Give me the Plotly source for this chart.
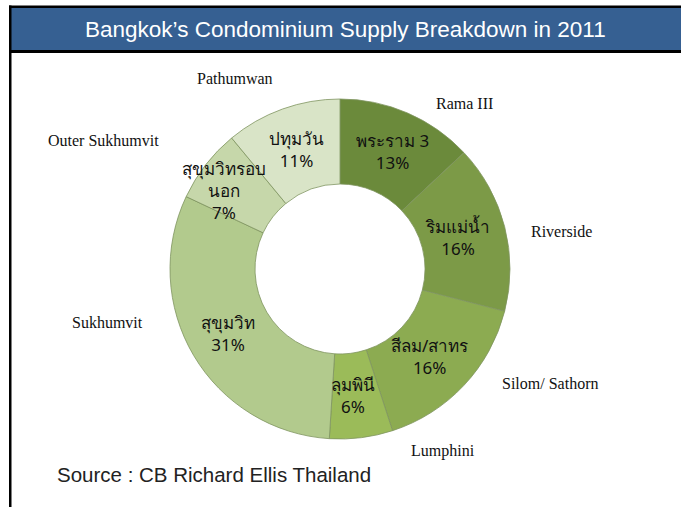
import math
import plotly.graph_objects as go

# Data
regions_en = ["Rama III", "Riverside", "Silom/ Sathorn", "Lumphini", "Sukhumvit", "Outer Sukhumvit", "Pathumwan"]
regions_th = ["พระราม 3", "ริมแม่น้ำ", "สีลม/สาทร", "ลุมพินี", "สุขุมวิท", "สุขุมวิทรอบ<br>นอก", "ปทุมวัน"]
shares = [13, 16, 16, 6, 31, 7, 11]
colors = ["#6b8a3b", "#7c9a47", "#8cab51", "#9bbb59", "#b2ca8d", "#c6d7aa", "#d9e4c7"]

# outer label positions (pixels in the 681x507 canvas)
outer_pos = {
    "Pathumwan": (235, 78),
    "Rama III": (464, 104),
    "Outer Sukhumvit": (103, 140),
    "Riverside": (561, 231),
    "Sukhumvit": (107, 322),
    "Silom/ Sathorn": (550, 383),
    "Lumphini": (443, 451),
}
# small horizontal nudge of inside labels (pixels)
inside_nudge = [2, -6, -3, -3, -2, -15, 0]

W, H = 681, 507
CX, CY, R_OUT, HOLE = 340, 269, 170, 0.5

fig = go.Figure()
fig.add_trace(go.Pie(
    labels=regions_en,
    values=shares,
    hole=HOLE,
    sort=False,
    direction="clockwise",
    rotation=0,
    marker=dict(colors=colors, line=dict(color="#7f9460", width=0.8)),
    textinfo="none",
    hoverinfo="label+percent",
    showlegend=False,
    domain=dict(x=[(CX - R_OUT) / W, (CX + R_OUT) / W], y=[(H - CY - R_OUT) / H, (H - CY + R_OUT) / H]),
))

annotations = []
total = sum(shares)
cum = 0
r_mid = R_OUT * (1 + HOLE) / 2
for th, v, dx in zip(regions_th, shares, inside_nudge):
    mid = (cum + v / 2) / total * 2 * math.pi
    cum += v
    px = CX + r_mid * math.sin(mid) + dx
    py = CY - r_mid * math.cos(mid)
    annotations.append(dict(
        x=px / W, y=1 - py / H, xref="paper", yref="paper",
        text=f"{th}<br>{round(v / total * 100)}%", showarrow=False,
        xanchor="center", yanchor="middle",
        font=dict(family="Tahoma, Noto Sans, DejaVu Sans, sans-serif", size=17, color="#111111"),
    ))

for name in regions_en:
    px, py = outer_pos[name]
    annotations.append(dict(
        x=px / W, y=1 - py / H, xref="paper", yref="paper",
        text=name, showarrow=False, xanchor="center", yanchor="middle",
        font=dict(family="Liberation Serif, Times New Roman, serif", size=16, color="#111111"),
    ))

annotations.append(dict(
    x=345.5 / W, y=1 - 30 / H, xref="paper", yref="paper",
    text="Bangkok’s Condominium Supply Breakdown in 2011", showarrow=False,
    xanchor="center", yanchor="middle",
    font=dict(family="Liberation Sans, Arial, sans-serif", size=22.5, color="white"),
))
annotations.append(dict(
    x=55 / W, y=1 - 474 / H, xref="paper", yref="paper",
    text="Source : CB Richard Ellis Thailand", showarrow=False,
    xanchor="left", yanchor="middle",
    font=dict(family="Liberation Sans, Arial, sans-serif", size=20.5, color="#222222"),
))

shapes = [
    dict(type="rect", xref="paper", yref="paper", x0=10 / W, x1=1, y0=1 - 50 / H, y1=1 - 7 / H,
         fillcolor="#366092", line=dict(width=0), layer="below"),
    dict(type="rect", xref="paper", yref="paper", x0=9 / W, x1=1, y0=1 - 8 / H, y1=1 - 5.5 / H,
         fillcolor="black", line=dict(width=0)),
    dict(type="rect", xref="paper", yref="paper", x0=9 / W, x1=1, y0=1 - 53 / H, y1=1 - 50 / H,
         fillcolor="black", line=dict(width=0)),
    dict(type="rect", xref="paper", yref="paper", x0=9 / W, x1=11.5 / W, y0=0, y1=1 - 5.5 / H,
         fillcolor="black", line=dict(width=0)),
]

fig.update_layout(
    width=W, height=H,
    margin=dict(l=0, r=0, t=0, b=0),
    paper_bgcolor="white",
    plot_bgcolor="white",
    annotations=annotations,
    shapes=shapes,
)

fig.write_html(
    "out.html",
    config={"displayModeBar": False},
    post_script="document.body.style.margin='0';document.body.style.overflow='hidden';",
)
